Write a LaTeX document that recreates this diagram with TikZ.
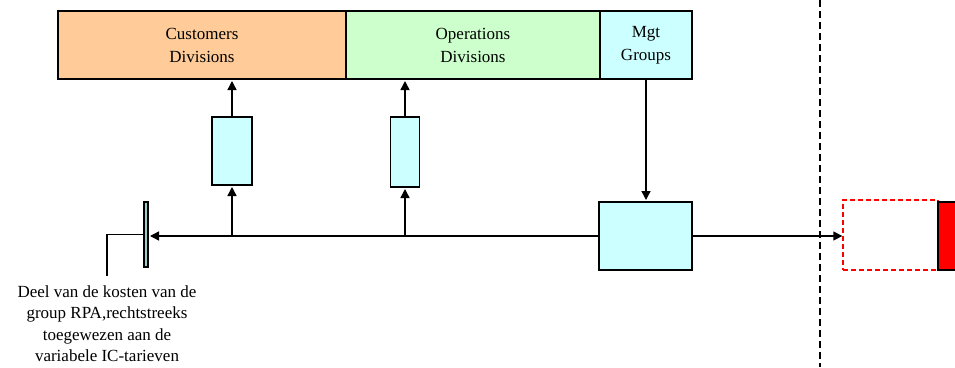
\documentclass[tikz,border=0pt]{standalone}
\usepackage{fontspec}
\setmainfont{Liberation Serif}
\usetikzlibrary{positioning, arrows.meta}
\definecolor{colour_cust}{HTML}{FFCC99}
\definecolor{colour_ops}{HTML}{CCFFCC}
\definecolor{colour_grp}{HTML}{CCFFFF}
\definecolor{colour_bar}{HTML}{99CCCC}

\begin{document}
\begin{tikzpicture}[
    x=1pt, y=-1pt,
    font=\rmfamily\fontsize{17}{23}\selectfont,
    band/.style={rectangle, draw, line width=1.4pt, outer sep=0pt, inner sep=0pt,
                 minimum height=68pt, align=center},
    box/.style={rectangle, draw, line width=1.4pt, fill=colour_grp,
                outer sep=0pt, inner sep=0pt},
    arrow/.style={-{Triangle[length=9pt, width=9pt]}, line width=1.4pt, shorten >=2pt},
    link/.style={line width=1.4pt},
    divider/.style={line width=1.4pt, dash pattern=on 7pt off 4pt}
]
\clip (0,0) rectangle (955,367);

% Top band
\node[band, fill=colour_cust, minimum width=288pt] (cust) at (202,45) {Customers\\Divisions};
\node[band, fill=colour_ops, minimum width=254pt, right=0pt of cust] (ops) {Operations\\Divisions};
\node[band, fill=colour_grp, minimum width=92pt, right=0pt of ops] (mgt) {Mgt\\Groups};

% Flow boxes
\node[box, minimum width=40pt, minimum height=68pt] (cflow) at (232,151) {};
\node[box, minimum width=29pt, minimum height=70pt] (oflow) at (405,152) {};
\node[box, minimum width=93pt, minimum height=68pt] (pool) at (645.5,236) {};
\node[box, fill=colour_bar, minimum width=4pt, minimum height=65pt] (bar) at (146,234.5) {};

% Right side
\node[rectangle, draw=red, dash pattern=on 5pt off 3pt, line width=1.4pt, minimum width=95pt,
      minimum height=70pt] (ghost) at (890.5,235) {};
\node[box, fill=red, minimum width=40pt, minimum height=68pt, anchor=west] (target) at (938,236) {};
\coordinate (divtop) at (820,0);
\coordinate (divbot) at (820,367);
\draw[divider] (divtop) -- (divbot);

% Note
\node[anchor=north, inner sep=0pt, align=center, font=\rmfamily\fontsize{17}{21.5}\selectfont]
     (note) at (107,285)
     {Deel van de kosten van de\\group RPA,rechtstreeks\\toegewezen aan de\\variabele IC-tarieven};

% Connectors
\coordinate (cjoin) at (cflow |- pool.west);
\coordinate (ojoin) at (oflow |- pool.west);
\draw[arrow] (mgt.south) -- (mgt.south |- pool.north);
\draw[arrow] (pool.west) -- (pool.west -| bar.east);
\draw[arrow] (cjoin) -- (cflow.south);
\draw[arrow] (ojoin) -- (oflow.south);
\draw[arrow] (cflow.north) -- (cflow.north |- cust.south);
\draw[arrow] (oflow.north) -- (oflow.north |- ops.south);
\draw[arrow, shorten >=0pt] (pool.east) -- (pool.east -| ghost.west);
\draw[link, shorten >=9pt] (bar.west) -| (note.north);

\end{tikzpicture}
\end{document}
